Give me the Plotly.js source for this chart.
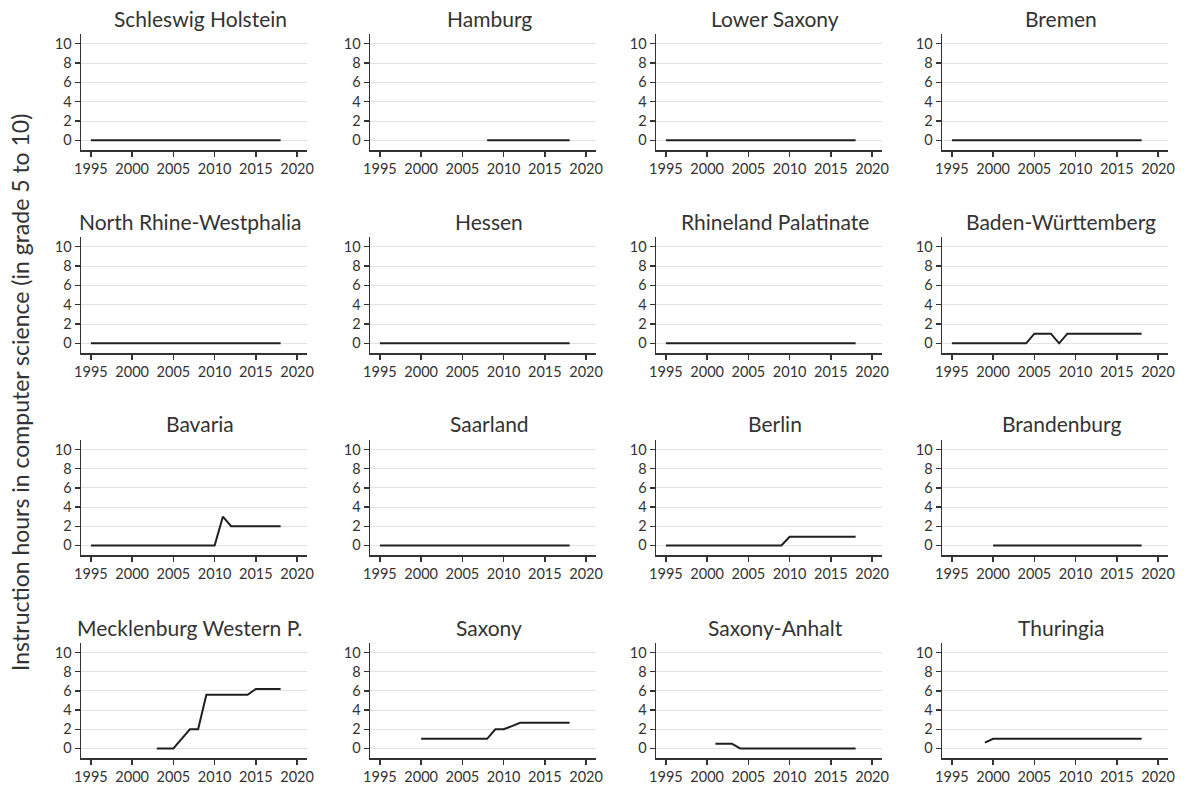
<!DOCTYPE html>
<html>
<head>
<meta charset="utf-8">
<script src="https://cdn.plot.ly/plotly-3.0.1.min.js"></script>
<style>html,body{margin:0;padding:0;background:#fff;}#chart{width:1184px;height:787px;}</style>
</head>
<body>
<div id="chart"></div>
<script>
// ---- Data ----
const states = ["Schleswig Holstein","Hamburg","Lower Saxony","Bremen",
  "North Rhine-Westphalia","Hessen","Rhineland Palatinate","Baden-Württemberg",
  "Bavaria","Saarland","Berlin","Brandenburg",
  "Mecklenburg Western P.","Saxony","Saxony-Anhalt","Thuringia"];

const years1995 = [1995,1996,1997,1998,1999,2000,2001,2002,2003,2004,2005,2006,2007,2008,2009,2010,2011,2012,2013,2014,2015,2016,2017,2018];
const zeros1995 = [0,0,0,0,0,0,0,0,0,0,0,0,0,0,0,0,0,0,0,0,0,0,0,0];

const yearsHamburg = [2008,2009,2010,2011,2012,2013,2014,2015,2016,2017,2018];
const hoursHamburg = [0,0,0,0,0,0,0,0,0,0,0];

const hoursBW = [0,0,0,0,0,0,0,0,0,0,1,1,1,0,1,1,1,1,1,1,1,1,1,1];
const hoursBavaria = [0,0,0,0,0,0,0,0,0,0,0,0,0,0,0,0,3,2,2,2,2,2,2,2];
const hoursBerlin = [0,0,0,0,0,0,0,0,0,0,0,0,0,0,0,0.9,0.9,0.9,0.9,0.9,0.9,0.9,0.9,0.9];

const yearsBrandenburg = [2000,2001,2002,2003,2004,2005,2006,2007,2008,2009,2010,2011,2012,2013,2014,2015,2016,2017,2018];
const hoursBrandenburg = [0,0,0,0,0,0,0,0,0,0,0,0,0,0,0,0,0,0,0];

const yearsMV = [2003,2004,2005,2006,2007,2008,2009,2010,2011,2012,2013,2014,2015,2016,2017,2018];
const hoursMV = [0,0,0,1,2,2,5.6,5.6,5.6,5.6,5.6,5.6,6.2,6.2,6.2,6.2];

const yearsSaxony = [2000,2001,2002,2003,2004,2005,2006,2007,2008,2009,2010,2011,2012,2013,2014,2015,2016,2017,2018];
const hoursSaxony = [1,1,1,1,1,1,1,1,1,2,2,2.33,2.67,2.67,2.67,2.67,2.67,2.67,2.67];

const yearsSA = [2001,2002,2003,2004,2005,2006,2007,2008,2009,2010,2011,2012,2013,2014,2015,2016,2017,2018];
const hoursSA = [0.5,0.5,0.5,0,0,0,0,0,0,0,0,0,0,0,0,0,0,0];

const yearsThuringia = [1999,2000,2001,2002,2003,2004,2005,2006,2007,2008,2009,2010,2011,2012,2013,2014,2015,2016,2017,2018];
const hoursThuringia = [0.6,1,1,1,1,1,1,1,1,1,1,1,1,1,1,1,1,1,1,1];

const seriesX = [years1995, yearsHamburg, years1995, years1995,
  years1995, years1995, years1995, years1995,
  years1995, years1995, years1995, yearsBrandenburg,
  yearsMV, yearsSaxony, yearsSA, yearsThuringia];
const seriesY = [zeros1995, hoursHamburg, zeros1995, zeros1995,
  zeros1995, zeros1995, zeros1995, hoursBW,
  hoursBavaria, zeros1995, hoursBerlin, hoursBrandenburg,
  hoursMV, hoursSaxony, hoursSA, hoursThuringia];

const xTicks = [1995,2000,2005,2010,2015,2020];
const yTicks = [0,2,4,6,8,10];
const yTitle = "Instruction hours in computer science (in grade 5 to 10)";

// ---- Layout (pixel geometry) ----
const W = 1184, H = 787;
const colX = [[81,307],[370,596],[656,882],[942,1168]];
const rowY = [[34,150],[237,353],[440,555],[643,758]];
const FONT = "Lato, 'Open Sans', sans-serif";
const TITLE_SIZE = 21;

// measure title widths so long titles stay inside their panel box (as in the reference)
const cv = document.createElement("canvas").getContext("2d");
cv.font = TITLE_SIZE + "px Lato";

const traces = [];
const layout = {
  width: W, height: H,
  margin: {l:0, r:0, t:0, b:0},
  paper_bgcolor: "#fff", plot_bgcolor: "#fff",
  showlegend: false,
  font: {family: FONT, color: "#333", size: 14, weight: 400},
  annotations: []
};

for (let i = 0; i < 16; i++) {
  const r = Math.floor(i / 4), c = i % 4;
  const sfx = i === 0 ? "" : String(i + 1);
  traces.push({
    type: "scatter", mode: "lines",
    x: seriesX[i], y: seriesY[i],
    xaxis: "x" + sfx, yaxis: "y" + sfx,
    line: {color: "#1f1f1f", width: 2},
    hoverinfo: "x+y"
  });
  layout["xaxis" + sfx] = {
    domain: [colX[c][0] / W, colX[c][1] / W],
    anchor: "y" + sfx,
    range: [1993.8, 2021.2],
    tickvals: xTicks,
    ticks: "outside", ticklen: 5, tickwidth: 1.3, tickcolor: "#333",
    showline: true, linecolor: "#333", linewidth: 1.5,
    showgrid: false, zeroline: false,
    tickfont: {family: FONT, size: 14.5, color: "#333", weight: 400}
  };
  layout["yaxis" + sfx] = {
    domain: [1 - rowY[r][1] / H, 1 - rowY[r][0] / H],
    anchor: "x" + sfx,
    range: [-1, 11],
    tickvals: yTicks,
    ticks: "outside", ticklen: 5, tickwidth: 1.3, tickcolor: "#333",
    showline: true, linecolor: "#333", linewidth: 1.5,
    showgrid: true, gridcolor: "#e2e2e2", gridwidth: 1,
    zeroline: false,
    tickfont: {family: FONT, size: 14.5, color: "#333", weight: 400}
  };
  const w = cv.measureText(states[i]).width;
  let cx = (colX[c][0] + colX[c][1]) / 2 + 6;
  const maxRight = colX[c][1] - 5;
  if (cx + w / 2 > maxRight) cx = maxRight - w / 2;
  layout.annotations.push({
    text: states[i],
    xref: "paper", yref: "paper",
    x: cx / W,
    y: 1 - (rowY[r][0] - 16) / H,
    xanchor: "center", yanchor: "middle",
    showarrow: false,
    font: {family: FONT, size: TITLE_SIZE, color: "#333", weight: 400}
  });
}

layout.annotations.push({
  text: yTitle,
  xref: "paper", yref: "paper",
  x: 20 / W, y: 1 - 393 / H,
  xanchor: "center", yanchor: "middle",
  textangle: -90, showarrow: false,
  font: {family: FONT, size: 23, color: "#333", weight: 400}
});

function draw() {
  Plotly.newPlot("chart", traces, layout, {staticPlot: true, displayModeBar: false});
}
if (document.fonts && document.fonts.load) {
  document.fonts.load(TITLE_SIZE + "px Lato").then(function () {
    cv.font = TITLE_SIZE + "px Lato";
    layout.annotations.forEach(function (a, k) {
      if (k >= 16) return;
      const r = Math.floor(k / 4), c = k % 4;
      const w = cv.measureText(states[k]).width;
      let cx = (colX[c][0] + colX[c][1]) / 2 + 6;
      const maxRight = colX[c][1] - 5;
      if (cx + w / 2 > maxRight) cx = maxRight - w / 2;
      a.x = cx / W;
    });
    draw();
  }, draw);
} else {
  draw();
}
</script>
</body>
</html>
